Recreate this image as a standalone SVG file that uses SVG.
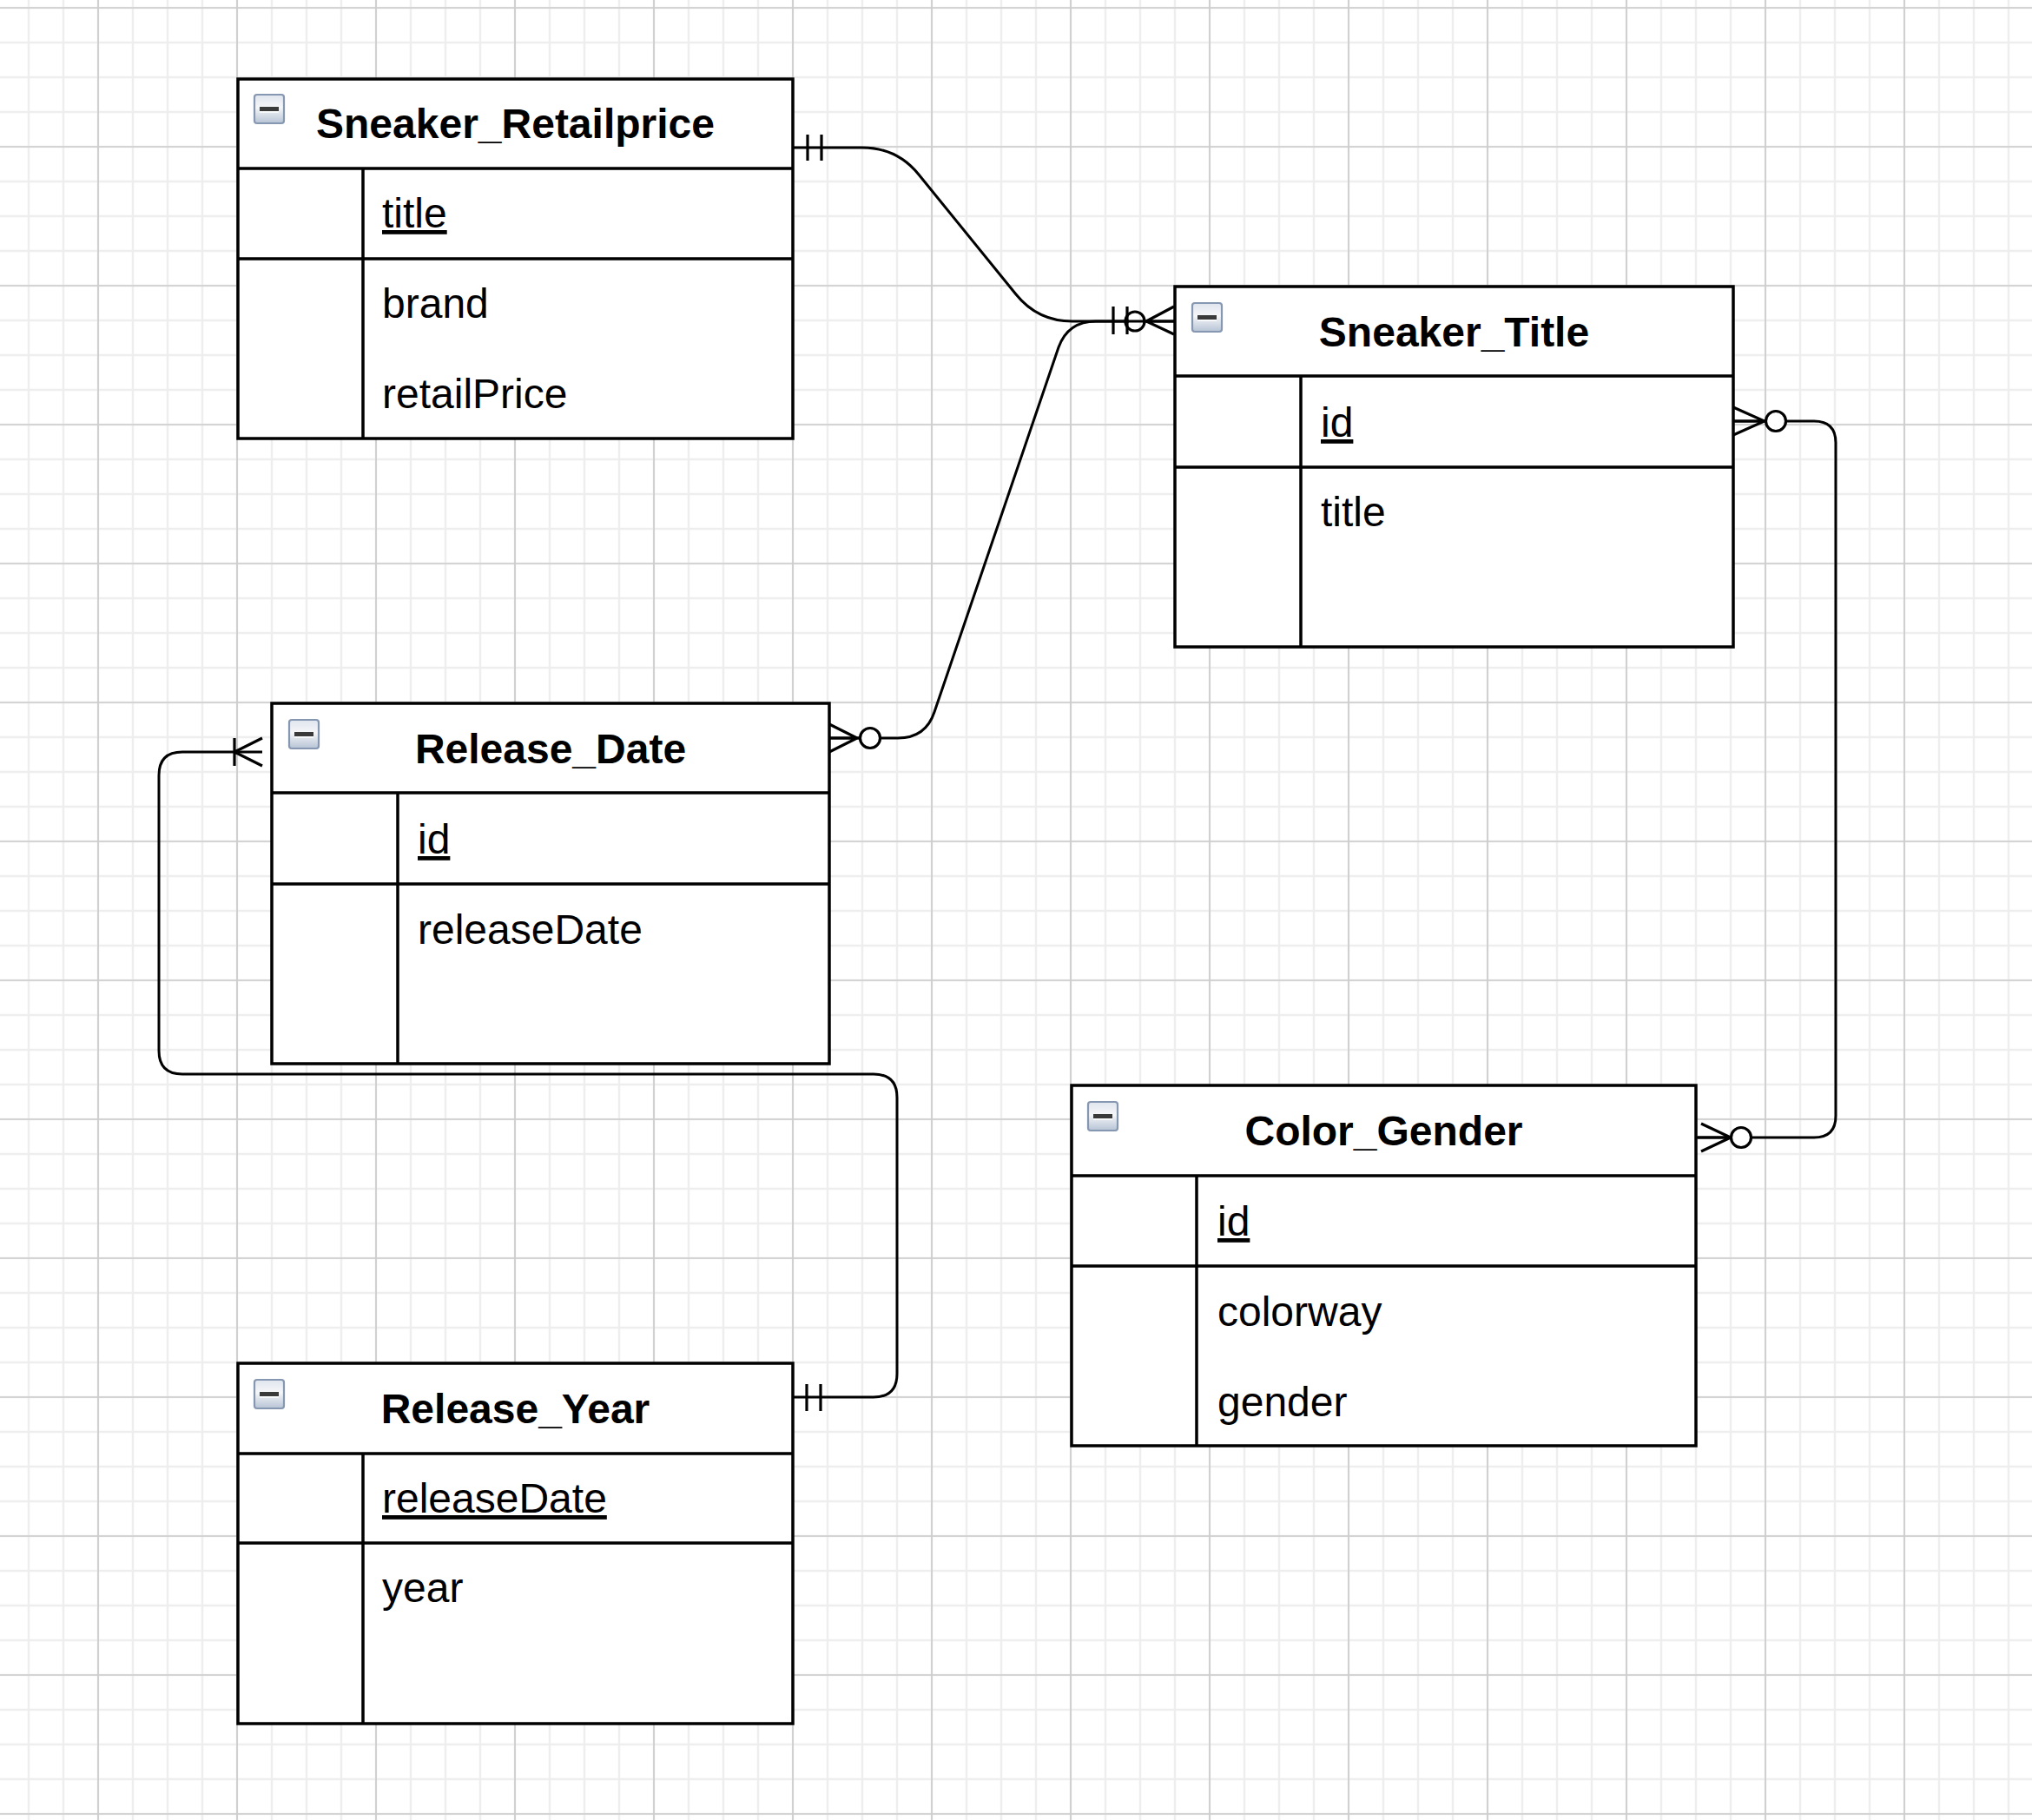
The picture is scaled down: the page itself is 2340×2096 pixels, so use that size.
<svg xmlns="http://www.w3.org/2000/svg" xmlns:xlink="http://www.w3.org/1999/xlink" width="2340" height="2096" viewBox="0 0 2340 2096">
  <style>
    .tbl { fill: #ffffff; stroke: #000000; stroke-width: 3.5; }
    .sep { fill: none; stroke: #000000; stroke-width: 3.5; }
    .title { font-family: "Liberation Sans", Arial, Helvetica, sans-serif; font-size: 48px; font-weight: bold; fill: #000000; text-anchor: middle; }
    .field { font-family: "Liberation Sans", Arial, Helvetica, sans-serif; font-size: 48px; fill: #000000; }
    .key { text-decoration: underline; }
    .edge { fill: none; stroke: #000000; stroke-width: 3; stroke-linejoin: round; }
    .mark { fill: none; stroke: #000000; stroke-width: 3.2; }
    .ring { fill: #ffffff; stroke: #000000; stroke-width: 3.2; }
  </style>
  <defs>
    <!-- background grid: fine 40px lines, heavier line every 160px -->
    <pattern id="gridMinor" width="40" height="40" patternUnits="userSpaceOnUse" x="13" y="-11">
      <path d="M20 0V40M0 20H40" fill="none" stroke="#eeeeee" stroke-width="2.5"/>
    </pattern>
    <pattern id="gridMajor" width="160" height="160" patternUnits="userSpaceOnUse" x="33" y="-71">
      <path d="M80 0V160M0 80H160" fill="none" stroke="#cccccc" stroke-width="1.7"/>
    </pattern>
    <linearGradient id="iconFill" x1="0" y1="0" x2="0" y2="1">
      <stop offset="0" stop-color="#dfe5ee"/>
      <stop offset="0.45" stop-color="#f5f6f8"/>
      <stop offset="1" stop-color="#b6c3d5"/>
    </linearGradient>
    <!-- collapse button shown in each table header -->
    <g id="minusIcon">
      <rect x="1" y="1" width="34" height="33" rx="3" fill="url(#iconFill)" stroke="#8697b1" stroke-width="2.2"/>
      <rect x="7" y="15" width="22" height="5" fill="#3a3a3a"/>
      <rect x="7" y="20" width="22" height="2" fill="#ffffff" opacity="0.7"/>
    </g>
  </defs>

  <rect x="0" y="0" width="2340" height="2096" fill="#ffffff"/>
  <rect x="0" y="0" width="2340" height="2096" fill="url(#gridMinor)"/>
  <rect x="0" y="0" width="2340" height="2096" fill="url(#gridMajor)"/>

  <!-- relationships -->
  <g id="connectors">
    <!-- Sneaker_Retailprice -> Sneaker_Title -->
    <path class="edge" d="M913 170 L993 170 Q1033 170 1058 201 L1170 339 Q1195 370 1235 370 L1353 370"/>
    <path class="mark" d="M930 155V185M946 155V185"/>

    <!-- Release_Date -> Sneaker_Title -->
    <path class="edge" d="M955 850 L1034 850 Q1066 850 1076 820 L1219 400 Q1230 370 1262 370 L1300 370"/>
    <path class="mark" d="M955 834L987 850L955 866M955 850H990"/>
    <circle class="ring" cx="1002" cy="850" r="11.5"/>

    <!-- markers where both links meet Sneaker_Title -->
    <path class="mark" d="M1282 353V385M1298 353V385"/>
    <circle class="mark" cx="1307" cy="370" r="11"/>
    <path class="mark" d="M1352 353L1320 370L1352 385M1318 370H1353"/>

    <!-- Sneaker_Title -> Color_Gender -->
    <path class="edge" d="M1996 485 L2089 485 Q2114 485 2114 510 L2114 1285 Q2114 1310 2089 1310 L1953 1310"/>
    <path class="mark" d="M1996 469L2032 485L1996 501M1996 485H2034"/>
    <circle class="ring" cx="2045" cy="485" r="11.5"/>
    <path class="mark" d="M1959 1294L1993 1310L1959 1326M1955 1310H1994"/>
    <circle class="ring" cx="2005" cy="1310" r="11.5"/>

    <!-- Release_Date -> Release_Year -->
    <path class="edge" d="M302 866 L210 866 Q183 866 183 893 L183 1210 Q183 1237 210 1237 L1006 1237 Q1033 1237 1033 1264 L1033 1582 Q1033 1609 1006 1609 L913 1609"/>
    <path class="mark" d="M270 850V882M302 850L270 866L302 882"/>
    <path class="mark" d="M929 1594V1625M945 1594V1625"/>
  </g>

  <g id="sneaker-retailprice">
    <rect class="tbl" x="274" y="91" width="639" height="414"/>
    <path class="sep" d="M274 194H913M274 298H913M418 194V505"/>
    <use href="#minusIcon" x="292" y="108"/>
    <text class="title" x="593.5" y="159">Sneaker_Retailprice</text>
    <text class="field key" x="440" y="262">title</text>
    <text class="field" x="440" y="366">brand</text>
    <text class="field" x="440" y="470">retailPrice</text>
  </g>

  <g id="sneaker-title">
    <rect class="tbl" x="1353" y="330" width="643" height="415"/>
    <path class="sep" d="M1353 433H1996M1353 538H1996M1498 433V745"/>
    <use href="#minusIcon" x="1372" y="348"/>
    <text class="title" x="1674.5" y="399">Sneaker_Title</text>
    <text class="field key" x="1521" y="503">id</text>
    <text class="field" x="1521" y="606">title</text>
  </g>

  <g id="release-date">
    <rect class="tbl" x="313" y="810" width="642" height="415"/>
    <path class="sep" d="M313 913H955M313 1018H955M458 913V1225"/>
    <use href="#minusIcon" x="332" y="828"/>
    <text class="title" x="634" y="879">Release_Date</text>
    <text class="field key" x="481" y="983">id</text>
    <text class="field" x="481" y="1087">releaseDate</text>
  </g>

  <g id="color-gender">
    <rect class="tbl" x="1234" y="1250" width="719" height="415"/>
    <path class="sep" d="M1234 1354H1953M1234 1458H1953M1378 1354V1665"/>
    <use href="#minusIcon" x="1252" y="1268"/>
    <text class="title" x="1593.5" y="1319">Color_Gender</text>
    <text class="field key" x="1402" y="1423">id</text>
    <text class="field" x="1402" y="1527">colorway</text>
    <text class="field" x="1402" y="1631">gender</text>
  </g>

  <g id="release-year">
    <rect class="tbl" x="274" y="1570" width="639" height="415"/>
    <path class="sep" d="M274 1674H913M274 1777H913M418 1674V1985"/>
    <use href="#minusIcon" x="292" y="1588"/>
    <text class="title" x="593.5" y="1639">Release_Year</text>
    <text class="field key" x="440" y="1742">releaseDate</text>
    <text class="field" x="440" y="1845">year</text>
  </g>
</svg>
